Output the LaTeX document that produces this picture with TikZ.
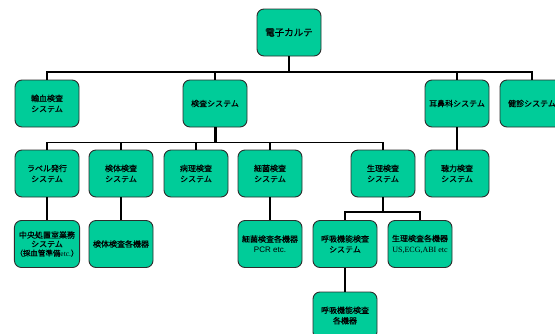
\documentclass[tikz,border=0pt]{standalone}
\usepackage{fontspec}
\setmainfont{Noto Sans CJK JP}[FakeBold=0.4]
\newfontfamily\latinserif{Liberation Serif}
\newfontfamily\latinsans{Liberation Sans}
\definecolor{boxgreen}{RGB}{0,204,153}
\definecolor{boxedge}{RGB}{45,45,45}
\tikzset{
  sysbox/.style={draw=boxedge, line width=0.9pt, fill=boxgreen, rounded corners=7pt,
    minimum width=64pt, minimum height=47pt, inner sep=1pt, align=center,
    font=\fontsize{8pt}{10.5pt}\selectfont},
  link/.style={draw=black, line width=1.7pt},
  trunk/.style={draw=black, line width=3pt}
}
\begin{document}
\begin{tikzpicture}[x=1pt, y=-1pt]
\useasboundingbox (0,0) rectangle (555,333);

% top level
\node[sysbox, font=\fontsize{9.5pt}{11pt}\selectfont] (karte) at (289,32.5) {電子カルテ};

% first level
\node[sysbox] (yuketsu) at (47,103.5)  {輸血検査\\システム};
\node[sysbox] (kensa)   at (215,103.5) {検査システム};
\node[sysbox] (jibi)    at (457,103.5) {耳鼻科システム};
\node[sysbox] (kenshin) at (532,103.5) {健診システム};

% second level
\node[sysbox] (label)  at (47,173.5)  {ラベル発行\\システム};
\node[sysbox] (kentai) at (121,173.5) {検体検査\\システム};
\node[sysbox] (byouri) at (196,173.5) {病理検査\\システム};
\node[sysbox] (saikin) at (270,173.5) {細菌検査\\システム};
\node[sysbox] (seiri)  at (383,173.5) {生理検査\\システム};
\node[sysbox] (chouryoku) at (457,173.5) {聴力検査\\システム};

% third level
\node[sysbox, font=\fontsize{8pt}{9pt}\selectfont] (chuou) at (47,244)
  {中央処置室業務\\システム\\{\fontsize{7.5pt}{9pt}\selectfont （採血管準備{\latinserif etc.}）}};
\node[sysbox] (kentaikiki) at (121,244) {検体検査各機器};
\node[sysbox] (saikinkiki) at (270,244) {細菌検査各機器\\{\latinsans PCR etc.}};
\node[sysbox] (kokyuu)     at (345,244) {呼吸機能検査\\システム};
\node[sysbox] (seirikiki)  at (420,244) {生理検査各機器\\{\latinserif US,ECG,ABI etc}};

% fourth level
\node[sysbox] (kokyuukiki) at (345,315.5) {呼吸機能検査\\各機器};

% bus heights
\coordinate (busA) at (0,72);
\coordinate (busB) at (0,142.5);
\coordinate (busC) at (0,212);

% connectors from the top node
\draw[link] (karte.south) -- (karte.south |- busA);
\foreach \c in {yuketsu,kensa,jibi,kenshin}
  \draw[link] (karte.south |- busA) -| (\c.north);

% connectors from the laboratory system
\draw[trunk] (kensa.south) -- (kensa.south |- busB);
\foreach \c in {label,kentai,byouri,saikin,seiri}
  \draw[link] (kensa.south |- busB) -| (\c.north);

% direct links
\draw[link] (jibi.south) -- (chouryoku.north);
\draw[link] (label.south) -- (chuou.north);
\draw[link] (kentai.south) -- (kentaikiki.north);
\draw[link] (saikin.south) -- (saikinkiki.north);

% physiological test branch
\draw[link] (seiri.south) -- (seiri.south |- busC);
\foreach \c in {kokyuu,seirikiki}
  \draw[link] (seiri.south |- busC) -| (\c.north);
\draw[link] (kokyuu.south) -- (kokyuukiki.north);
\end{tikzpicture}
\end{document}
